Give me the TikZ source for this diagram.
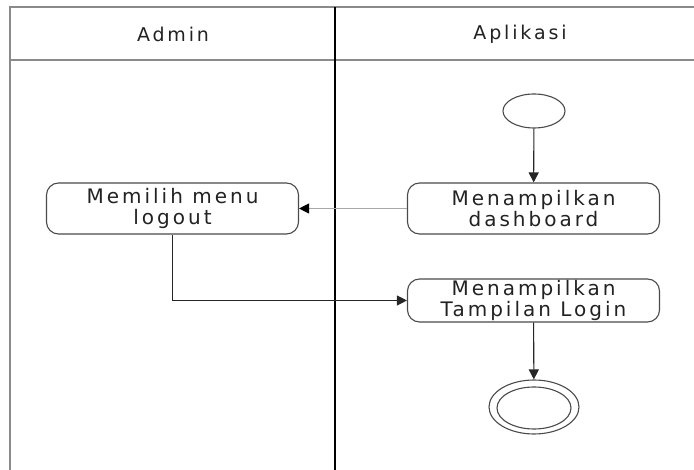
\documentclass[tikz,border=0pt]{standalone}
\usepackage{fontspec}
\setmainfont{DejaVu Sans}
\newfontfamily\boxfont[LetterSpace=15]{DejaVu Sans}
\usetikzlibrary{arrows.meta,shapes.geometric}
\definecolor{framegray}{HTML}{8A8A8A}
\definecolor{boxline}{HTML}{4A4A4A}
\definecolor{txt}{HTML}{222222}
\definecolor{lightline}{HTML}{A8A8A8}
\tikzset{
  actbox/.style={draw=boxline, line width=1.1pt, rounded corners=12pt, minimum width=252pt, align=center, text=txt, font=\boxfont\fontsize{20}{21}\selectfont, inner sep=0pt},
  lanehead/.style={text=txt, font=\boxfont\fontsize{19}{20}\selectfont},
  flow/.style={draw=black!85, line width=1.1pt, -{Triangle[length=10pt,width=10pt]}},
  startstate/.style={draw=boxline, line width=1.1pt, ellipse, minimum width=62pt, minimum height=34pt, inner sep=0pt},
}
\begin{document}
\begin{tikzpicture}[x=1pt,y=-1pt]
\useasboundingbox (0,0) rectangle (694,470);
% swimlane frame
\draw[framegray, line width=1.2pt] (10,470) -- (10,7) -- (694,7);
\draw[framegray, line width=1.2pt] (10,60) -- (694,60);
\draw[black, line width=1.5pt] (335,7) -- (335,470);
\node[lanehead] (hadmin) at (173,34) {Admin};
\node[lanehead] (happ) at (520,34) {Aplikasi};
% nodes
\node[startstate] (start) at (534,111) {};
\node[actbox, minimum height=51pt] (dash) at (533.5,208.5) {Menampilkan\\dashboard};
\node[actbox, minimum height=51pt] (logout) at (172.5,208.5) {Memilih menu\\logout};
\node[actbox, minimum height=43pt] (login) at (533.5,300.5) {Menampilkan\\Tampilan Login};
\node[draw=boxline, line width=1.1pt, ellipse, minimum width=90pt, minimum height=54pt, inner sep=0pt] (endo) at (534,407) {};
\node[draw=boxline, line width=1.1pt, ellipse, minimum width=74pt, minimum height=42pt, inner sep=0pt] (endi) at (534,408) {};
% connectors
\draw[flow] (start) -- (dash);
\draw[flow, draw=lightline, -{Triangle[length=10pt,width=10pt,fill=black,color=black]}] (dash) -- (logout);
\draw[flow] (logout.south) |- (login.west);
\draw[flow] (login) -- (endo);
\end{tikzpicture}
\end{document}
